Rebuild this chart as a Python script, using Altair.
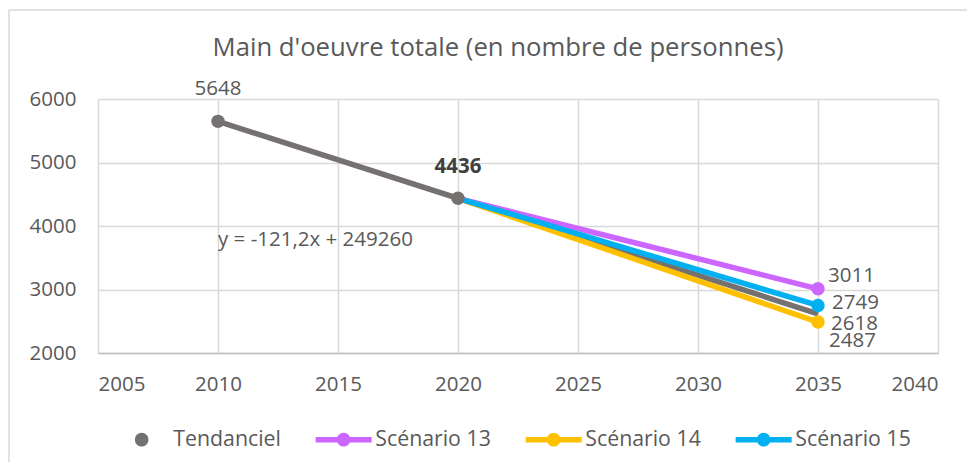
import altair as alt
import pandas as pd

# ---- data ----
series_names = ["Tendanciel", "Scénario 13", "Scénario 14", "Scénario 15"]
series_colors = ["#767171", "#CC66FF", "#FFC000", "#00B0F0"]

tend_years = [2010, 2020]
tend_values = [5648, 4436]

trend_years = [2010, 2035]
trend_values = [5648, 2618]

scen_years = [2020, 2035]
scen13_values = [4436, 3011]
scen14_values = [4436, 2487]
scen15_values = [4436, 2749]

x_ticks = [2005, 2010, 2015, 2020, 2025, 2030, 2035, 2040]
y_ticks = [2000, 3000, 4000, 5000, 6000]

title_text = "Main d'oeuvre totale (en nombre de personnes)"
equation_text = ["y = -121,2x + 249260"]
equation_year = [2010]
equation_value = [3780]

# ---- tables ----
tend_df = pd.DataFrame({"year": tend_years, "value": tend_values, "series": "Tendanciel"})
trend_df = pd.DataFrame({"year": trend_years, "value": trend_values, "series": "Tendanciel"})
scen_df = pd.concat([
    pd.DataFrame({"year": scen_years, "value": scen13_values, "series": "Scénario 13"}),
    pd.DataFrame({"year": scen_years, "value": scen14_values, "series": "Scénario 14"}),
    pd.DataFrame({"year": scen_years, "value": scen15_values, "series": "Scénario 15"}),
], ignore_index=True)
legend_df = pd.DataFrame({"series": series_names, "year": [2010] * 4, "value": [4000] * 4})
eq_df = pd.DataFrame({"year": equation_year, "value": equation_value, "label": equation_text})
one_df = pd.DataFrame({"a": [0]})

FONT = "Open Sans"
TXT = "#595959"
FS = 20.5
GRID = "#d9d9d9"

x_enc = alt.X("year:Q", scale=alt.Scale(domain=[2005, 2040], nice=False, zero=False),
              axis=alt.Axis(values=x_ticks, format="d", title=None, ticks=False,
                            domain=True, domainColor="#bfbfbf", domainWidth=1.5,
                            grid=True, gridColor=GRID, gridWidth=1.5,
                            labelPadding=21, labelFontSize=FS, labelColor=TXT,
                            labelFont=FONT))
y_enc = alt.Y("value:Q", scale=alt.Scale(domain=[2000, 6000], nice=False, zero=False),
              axis=alt.Axis(values=y_ticks, format="d", title=None, ticks=False,
                            domain=False, grid=True, gridColor=GRID, gridWidth=1.5,
                            labelPadding=22, labelFontSize=FS, labelColor=TXT,
                            labelFont=FONT))

color_scale = alt.Scale(domain=series_names, range=series_colors)
scen_scale = alt.Scale(domain=series_names[1:], range=series_colors[1:])

line_dot = ("M-3.5,-0.34L3.5,-0.34L3.5,0.34L-3.5,0.34Z"
            "M-0.85,0A0.85,0.85,0,1,1,0.85,0A0.85,0.85,0,1,1,-0.85,0Z")
dot_only = "M-0.85,0A0.85,0.85,0,1,1,0.85,0A0.85,0.85,0,1,1,-0.85,0Z"
shape_scale = alt.Scale(domain=series_names, range=[dot_only, line_dot, line_dot, line_dot])

legend_cfg = dict(title=None, orient="none", direction="horizontal",
                  legendX=33, legendY=330, labelFont=FONT, labelFontSize=21.3,
                  labelColor=TXT, symbolOpacity=1, symbolStrokeWidth=0,
                  symbolSize=256, labelOffset=21, columnPadding=34, padding=0)

# border of the chart area (decoration)
border_top = alt.Chart(one_df).mark_rule(color=GRID, strokeWidth=1.5).encode(
    x=alt.value(-89), x2=alt.value(900), y=alt.value(-89))
border_left = alt.Chart(one_df).mark_rule(color=GRID, strokeWidth=1.5).encode(
    x=alt.value(-89), y=alt.value(-89), y2=alt.value(400))

title_mark = alt.Chart(one_df).mark_text(
    text=title_text, font=FONT, fontSize=25.7, color=TXT, align="center",
    baseline="middle").encode(x=alt.value(400), y=alt.value(-51))

trend_line = alt.Chart(trend_df).mark_line(color="#767171", strokeWidth=5.5).encode(
    x=x_enc, y=y_enc)

scen_lines = alt.Chart(scen_df).mark_line(strokeWidth=5.5).encode(
    x="year:Q", y="value:Q",
    stroke=alt.Stroke("series:N", scale=scen_scale, legend=None),
    detail="series:N")

scen_points = alt.Chart(scen_df).transform_filter("datum.year == 2035").mark_circle(
    size=180, opacity=1).encode(
    x="year:Q", y="value:Q",
    fill=alt.Fill("series:N", scale=scen_scale, legend=None))

tend_points = alt.Chart(tend_df).mark_circle(size=180, opacity=1, color="#767171").encode(
    x="year:Q", y="value:Q")

legend_layer = alt.Chart(legend_df).mark_point(filled=True, opacity=0, size=256).encode(
    x="year:Q", y="value:Q",
    color=alt.Color("series:N", scale=color_scale, legend=alt.Legend(**legend_cfg)),
    shape=alt.Shape("series:N", scale=shape_scale, legend=alt.Legend(**legend_cfg)))

def label(df, filt, **kw):
    base = dict(font=FONT, fontSize=FS, color=TXT)
    base.update(kw)
    return alt.Chart(df).transform_filter(filt).mark_text(**base).encode(
        x="year:Q", y="value:Q", text=alt.Text("value:Q", format="d"))

lab_5648 = label(tend_df, "datum.year == 2010", dy=-32)
lab_4436 = label(tend_df, "datum.year == 2020", dy=-31, fontWeight="bold", color="#404040")
lab_3011 = label(scen_df, "datum.year == 2035 && datum.series == 'Scénario 13'",
                 align="left", dx=10, dy=-13)
lab_2749 = label(scen_df, "datum.year == 2035 && datum.series == 'Scénario 15'",
                 align="left", dx=14, dy=-2)
lab_2618 = label(trend_df, "datum.year == 2035", align="left", dx=13, dy=10)
lab_2487 = label(scen_df, "datum.year == 2035 && datum.series == 'Scénario 14'",
                 align="left", dx=11, dy=19)

eq_text = alt.Chart(eq_df).mark_text(font=FONT, fontSize=FS, color=TXT, align="left").encode(
    x="year:Q", y="value:Q", text="label:N")

chart = alt.layer(
    border_top, border_left, title_mark, trend_line, scen_lines, scen_points, tend_points,
    legend_layer, lab_5648, lab_4436, lab_3011, lab_2749, lab_2618, lab_2487, eq_text
).properties(
    width=840, height=254,
    autosize=alt.AutoSizeParams(type="none"),
    padding={"left": 90, "top": 91, "right": 29, "bottom": 109},
).configure_view(stroke=None).configure(font=FONT)

chart.save("out.html", embed_options={"renderer": "svg", "actions": False})
